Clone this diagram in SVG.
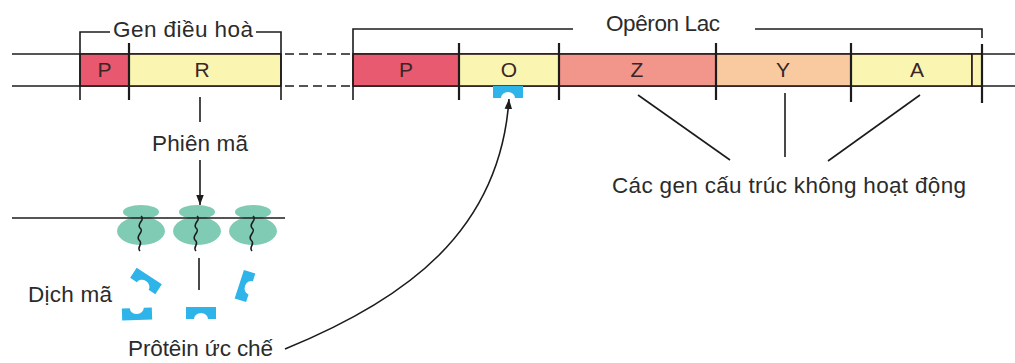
<svg xmlns="http://www.w3.org/2000/svg" width="1015" height="363" viewBox="0 0 1015 363">
  <defs>
    <style>
      .ln { stroke: #1c1c1c; stroke-width: 1.6; fill: none; }
      .tk { stroke: #1c1c1c; stroke-width: 2.2; fill: none; }
      .dash { stroke: #1c1c1c; stroke-width: 1.6; stroke-dasharray: 9 5; fill: none; }
      .box { stroke: #2a1a1a; stroke-width: 1.6; }
      .lbl { font-family: "Liberation Sans", Arial, sans-serif; font-size: 22.5px; fill: #2b2b2b; }
      .gl { font-family: "Liberation Sans", Arial, sans-serif; font-size: 21px; fill: #3a2626; text-anchor: middle; }
      .rep { fill: #2eb4e9; }
      .rib { fill: #7fcbb4; }
      .pep { stroke: #1c1c1c; stroke-width: 1.6; fill: none; }
    </style>
    <marker id="arrow" markerWidth="10" markerHeight="15" refX="12" refY="4.5" orient="auto" markerUnits="userSpaceOnUse" viewBox="0 0 12 9">
      <path d="M0,0 L12,4.5 L0,9 Z" fill="#1c1c1c"/>
    </marker>
    <!-- repressor protein: block with a rounded notch on one long side -->
    <path id="repressor" d="M-15,-6 H15 V6 H7 A7,6 0 0 0 -7,6 H-15 Z"/>
    <!-- ribosome: small and large subunit -->
    <g id="ribosome">
      <ellipse cx="0" cy="-6" rx="18" ry="7" class="rib"/>
      <ellipse cx="0" cy="13" rx="24" ry="14" class="rib"/>
    </g>
    <!-- nascent polypeptide -->
    <path id="peptide" d="M0,0 c5,4 -5,7 -1,12 c5,4 -5,7 -1,12 c5,4 -3,7 1,11"/>
  </defs>

  <rect width="1015" height="363" fill="#ffffff"/>

  <!-- DNA double strand -->
  <g id="dna">
    <line class="ln" x1="12" y1="54" x2="281" y2="54"/>
    <line class="ln" x1="12" y1="86" x2="281" y2="86"/>
    <line class="dash" x1="285" y1="54" x2="353" y2="54"/>
    <line class="dash" x1="285" y1="86" x2="353" y2="86"/>
    <line class="ln" x1="353" y1="54" x2="1015" y2="54"/>
    <line class="ln" x1="353" y1="86" x2="1015" y2="86"/>
  </g>

  <!-- regulatory gene -->
  <g id="gene-regulator">
    <rect class="box" x="80" y="54" width="49" height="32" fill="#e8586f"/>
    <text class="gl" x="104.5" y="77">P</text>
    <rect class="box" x="129" y="54" width="152" height="32" fill="#faf6b2"/>
    <text class="gl" x="202" y="77">R</text>
    <polyline class="ln" points="80,100 80,32 110,32"/>
    <polyline class="ln" points="256,32 281,32 281,100"/>
    <line class="tk" x1="129" y1="43" x2="129" y2="100"/>
    <text class="lbl" x="113" y="37" textLength="140" lengthAdjust="spacing">Gen điều hoà</text>
  </g>

  <!-- lac operon -->
  <g id="operon-lac">
    <rect class="box" x="353" y="54" width="106" height="32" fill="#e85a70"/>
    <text class="gl" x="406" y="77">P</text>
    <rect class="box" x="459" y="54" width="100" height="32" fill="#faf6b2"/>
    <text class="gl" x="509" y="77">O</text>
    <rect class="box" x="559" y="54" width="157" height="32" fill="#f2958b"/>
    <text class="gl" x="637" y="77">Z</text>
    <rect class="box" x="716" y="54" width="135" height="32" fill="#f9c9a0"/>
    <text class="gl" x="783" y="77">Y</text>
    <rect class="box" x="851" y="54" width="121" height="32" fill="#faf6b2"/>
    <text class="gl" x="917" y="77">A</text>
    <rect class="box" x="972" y="54" width="10" height="32" fill="#faf6b2"/>
    <polyline class="ln" points="353,100 353,29 573,29"/>
    <polyline class="ln" points="755,29 982,29 982,38"/>
    <line class="tk" x1="982" y1="44" x2="982" y2="103"/>
    <line class="tk" x1="459" y1="43" x2="459" y2="100"/>
    <line class="tk" x1="559" y1="43" x2="559" y2="100"/>
    <line class="tk" x1="716" y1="43" x2="716" y2="100"/>
    <line class="tk" x1="851" y1="43" x2="851" y2="102"/>
    <text class="lbl" x="606" y="31" textLength="114" lengthAdjust="spacing">Opêron Lac</text>
    <!-- repressor bound to the operator -->
    <use href="#repressor" class="rep" transform="translate(508,92)"/>
  </g>

  <!-- translation on mRNA -->
  <g id="translation">
    <use href="#ribosome" transform="translate(141,218)"/>
    <use href="#ribosome" transform="translate(197,218)"/>
    <use href="#ribosome" transform="translate(253,218)"/>
    <line class="ln" x1="12" y1="218" x2="285" y2="218"/>
    <use href="#peptide" class="pep" transform="translate(141,216)"/>
    <use href="#peptide" class="pep" transform="translate(197,216)"/>
    <use href="#peptide" class="pep" transform="translate(253,216)"/>
  </g>

  <!-- free repressor proteins -->
  <g id="repressors">
    <use href="#repressor" class="rep" transform="translate(146,281) rotate(33)"/>
    <use href="#repressor" class="rep" transform="translate(245,286) rotate(-72)"/>
    <use href="#repressor" class="rep" transform="translate(137,314) rotate(178)"/>
    <use href="#repressor" class="rep" transform="translate(201,313)"/>
  </g>

  <!-- labels -->
  <g id="labels">
    <text class="lbl" x="152" y="151" textLength="96" lengthAdjust="spacing">Phiên mã</text>
    <text class="lbl" x="612" y="193" textLength="354" lengthAdjust="spacing">Các gen cấu trúc không hoạt động</text>
    <text class="lbl" x="28" y="302" textLength="84" lengthAdjust="spacing">Dịch mã</text>
    <text class="lbl" x="128" y="356" textLength="145" lengthAdjust="spacing">Prôtêin ức chế</text>
  </g>

  <!-- connectors -->
  <g id="connectors">
    <line class="ln" x1="200" y1="97" x2="200" y2="122"/>
    <line class="ln" x1="200" y1="160" x2="200" y2="205" marker-end="url(#arrow)"/>
    <line class="ln" x1="199" y1="258" x2="199" y2="290"/>
    <path class="ln" d="M285,349 C405,300 500,232 509,99" marker-end="url(#arrow)"/>
    <line class="ln" x1="638" y1="95" x2="730" y2="160"/>
    <line class="ln" x1="785" y1="93" x2="785" y2="157"/>
    <line class="ln" x1="920" y1="95" x2="828" y2="161"/>
  </g>
</svg>
